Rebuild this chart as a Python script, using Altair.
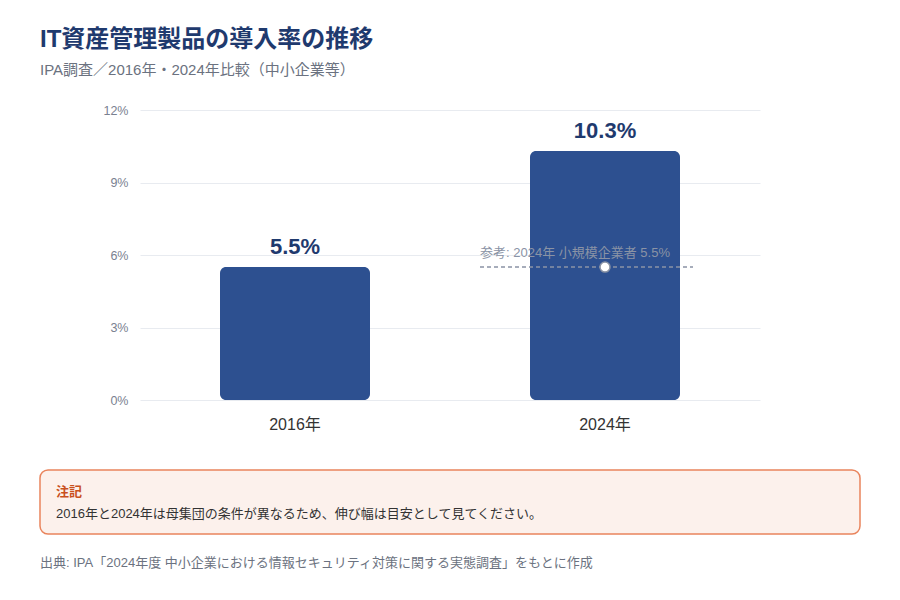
import altair as alt
import pandas as pd

# Adoption rate of IT asset management products (SME survey)
years = ["2016年", "2024年"]
rates = [5.5, 10.3]
rate_labels = ["5.5%", "10.3%"]

# Reference: 2024 small business operators
ref_year = ["2024年"]
ref_rate = [5.5]
ref_text = ["参考: 2024年 小規模企業者 5.5%"]

y_ticks = [0, 3, 6, 9, 12]

title_text = "IT資産管理製品の導入率の推移"
subtitle_text = "IPA調査／2016年・2024年比較（中小企業等）"
note_title = "注記"
note_body = "2016年と2024年は母集団の条件が異なるため、伸び幅は目安として見てください。"
source_text = "出典: IPA「2024年度 中小企業における情報セキュリティ対策に関する実態調査」をもとに作成"

FONT = "Liberation Sans, Noto Sans CJK JP, sans-serif"
NAVY = "#1f3a6e"
BAR = "#2d5090"
GREY = "#8a93a5"

bars_df = pd.DataFrame({"year": years, "rate": rates, "label": rate_labels})
ref_df = pd.DataFrame({"year": ref_year, "rate": ref_rate, "text": ref_text})
one = pd.DataFrame({"k": [0]})

x_enc = alt.X(
    "year:N",
    sort=years,
    title=None,
    scale=alt.Scale(paddingInner=0, paddingOuter=0),
    axis=alt.Axis(
        labelAngle=0, labelFontSize=16, labelColor="#333333", labelFont=FONT,
        labelPadding=16, domain=False, ticks=False, grid=False,
    ),
)
y_enc = alt.Y(
    "rate:Q",
    title=None,
    scale=alt.Scale(domain=[0, 12], nice=False),
    axis=alt.Axis(
        values=y_ticks, labelExpr="datum.value + '%'", labelFontSize=12.5,
        labelColor="#7a8190", labelFont=FONT, labelPadding=12,
        domain=False, ticks=False, gridColor="#e8ebf0", gridWidth=1,
    ),
)

bars = alt.Chart(bars_df).mark_bar(
    width=150, color=BAR, cornerRadius=6
).encode(x=x_enc, y=y_enc)

bar_text = alt.Chart(bars_df).mark_text(
    fontSize=22, fontWeight="bold", color=NAVY, font=FONT, baseline="alphabetic", dy=-13
).encode(x=alt.X("year:N", sort=years), y="rate:Q", text="label:N")

ref_rule = alt.Chart(ref_df).mark_rule(
    color=GREY, strokeWidth=1.5, strokeDash=[4, 3], xOffset=-125, x2Offset=88
).encode(x=alt.X("year:N", sort=years), x2=alt.X2("year:N"), y="rate:Q")

ref_point = alt.Chart(ref_df).mark_point(
    filled=True, fill="white", stroke=GREY, strokeWidth=1.5, size=100, opacity=1
).encode(x=alt.X("year:N", sort=years), y="rate:Q")

ref_label = alt.Chart(ref_df).mark_text(
    fontSize=13, color=GREY, font=FONT, align="left", baseline="alphabetic", dx=-125, dy=-10
).encode(x=alt.X("year:N", sort=years), y="rate:Q", text="text:N")

# Heading above the plot
head = alt.Chart(one).mark_text(
    fontSize=24, fontWeight="bold", color=NAVY, font=FONT, align="left", baseline="alphabetic"
).encode(x=alt.value(-100), y=alt.value(-63), text=alt.value(title_text))

subhead = alt.Chart(one).mark_text(
    fontSize=15, color="#6b7280", font=FONT, align="left", baseline="alphabetic"
).encode(x=alt.value(-100), y=alt.value(-35), text=alt.value(subtitle_text))

# Note box and source line below the plot
note_box = alt.Chart(one).mark_rect(
    fill="#fcf1ec", stroke="#e9845c", strokeWidth=1.5, cornerRadius=8
).encode(x=alt.value(-100), x2=alt.value(720), y=alt.value(360), y2=alt.value(424))

note_head = alt.Chart(one).mark_text(
    fontSize=13, fontWeight="bold", color="#c9501c", font=FONT, align="left", baseline="middle"
).encode(x=alt.value(-84), y=alt.value(382), text=alt.value(note_title))

note_text = alt.Chart(one).mark_text(
    fontSize=13, color="#333333", font=FONT, align="left", baseline="middle"
).encode(x=alt.value(-84), y=alt.value(404), text=alt.value(note_body))

source = alt.Chart(one).mark_text(
    fontSize=13, color="#6b7280", font=FONT, align="left", baseline="middle"
).encode(x=alt.value(-100), y=alt.value(453), text=alt.value(source_text))

chart = alt.layer(
    bars, bar_text, ref_rule, ref_point, ref_label,
    head, subhead, note_box, note_head, note_text, source
).properties(
    width=620,
    height=290,
    padding={"left": 140, "top": 110, "right": 140, "bottom": 200},
    autosize=alt.AutoSizeParams(type="none"),
    background="white",
).configure_view(stroke=None)

chart.save("out.html", embed_options={"renderer": "svg", "actions": False})
